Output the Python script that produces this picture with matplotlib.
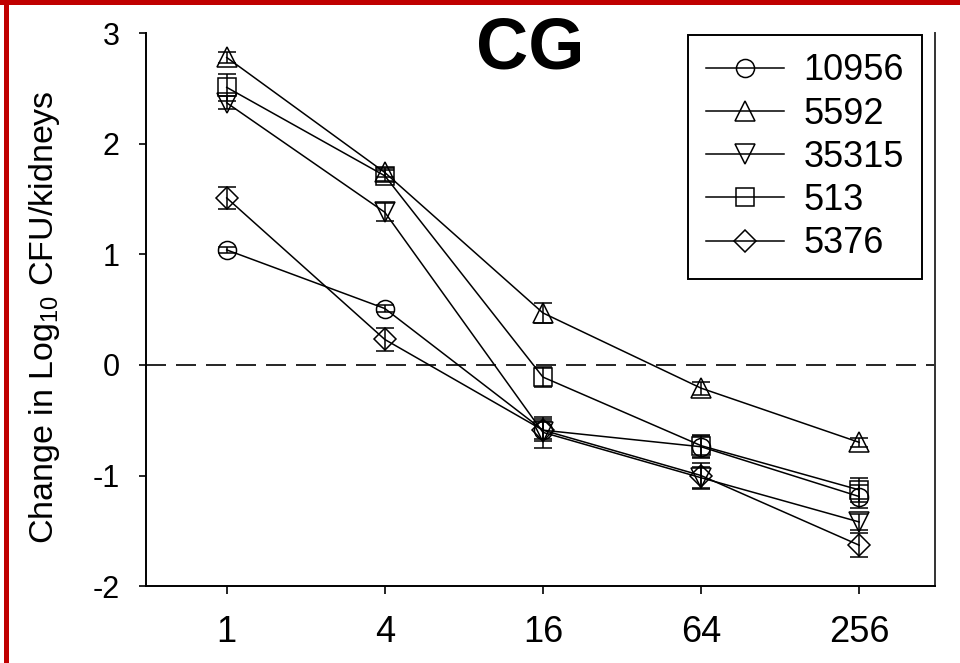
import numpy as np
import matplotlib.pyplot as plt
from matplotlib.patches import Rectangle
from matplotlib.ticker import NullLocator

plt.rcParams['font.family'] = ['Liberation Sans', 'DejaVu Sans']
plt.rcParams['mathtext.fontset'] = 'custom'
plt.rcParams['mathtext.rm'] = 'Liberation Sans'
plt.rcParams['mathtext.it'] = 'Liberation Sans'
plt.rcParams['axes.unicode_minus'] = False

# Dose (fold MIC) and change in log10 CFU per strain
doses = [1, 4, 16, 64, 256]
strains = ['10956', '5592', '35315', '513', '5376']

y_10956 = [1.04, 0.51, -0.59, -0.74, -1.19]
y_5592 = [2.78, 1.74, 0.47, -0.21, -0.70]
y_35315 = [2.37, 1.38, -0.61, -1.02, -1.42]
y_513 = [2.51, 1.71, -0.11, -0.73, -1.13]
y_5376 = [1.51, 0.23, -0.59, -1.00, -1.63]

err_10956 = [0.03, 0.03, 0.10, 0.10, 0.10]
err_5592 = [0.05, 0.04, 0.09, 0.06, 0.04]
err_35315 = [0.06, 0.08, 0.14, 0.10, 0.07]
err_513 = [0.12, 0.05, 0.09, 0.10, 0.11]
err_5376 = [0.10, 0.10, 0.08, 0.11, 0.11]

values = [y_10956, y_5592, y_35315, y_513, y_5376]
errors = [err_10956, err_5592, err_35315, err_513, err_5376]
markers = ['o', '^', 'v', 's', 'D']
msizes = [13, 15, 15, 13.5, 11.7]

fig = plt.figure(figsize=(9.6, 6.63), dpi=100)
ax = fig.add_axes([0.152, 0.116, 0.822, 0.834])

lines = []
for name, y, e, m, ms in zip(strains, values, errors, markers, msizes):
    ax.errorbar(doses, y, yerr=e, fmt='none', ecolor='black', elinewidth=1.1,
                capsize=6.8, capthick=1.1, zorder=3)
    ln, = ax.plot(doses, y, color='black', lw=1.1, marker=m, ms=ms,
                  mfc='none', mec='black', mew=1.1, label=name, zorder=4)
    lines.append(ln)

ax.axhline(0, color='black', lw=1.2, dashes=(12, 6), zorder=2)

ax.set_xscale('log', base=2)
ax.set_xlim(2 ** -1.022, 2 ** 8.96)
ax.set_xticks(doses)
ax.set_xticklabels([str(d) for d in doses])
ax.xaxis.set_minor_locator(NullLocator())
ax.set_ylim(-2, 3)
ax.set_yticks(range(-2, 4))

ax.spines['top'].set_visible(False)
for s in ['left', 'bottom', 'right']:
    ax.spines[s].set_linewidth(1.4)
ax.spines['right'].set_color('#333333')
ax.tick_params(axis='y', direction='out', length=5, width=1.2, pad=14, labelsize=22)
ax.tick_params(axis='x', direction='out', length=6, width=1.2, pad=15, labelsize=26)

ax.set_ylabel('Change in Log$_{10}$ CFU/kidneys', fontsize=24.5)
ax.yaxis.set_label_coords(-0.106, 0.486)

fig.text(0.552, 0.896, 'CG', fontsize=52, fontweight='bold', ha='center', va='baseline')

leg = ax.legend(handles=lines, loc='upper right', bbox_to_anchor=(0.9604, 0.947),
                bbox_transform=fig.transFigure, borderaxespad=0, fontsize=26,
                numpoints=1, fancybox=False, framealpha=1, edgecolor='black',
                handlelength=2.16, handletextpad=0.55, labelspacing=0.23,
                borderpad=0.5)
leg.get_frame().set_linewidth(1.4)

# red slide frame on the top and left edges
fig.add_artist(Rectangle((0, 1 - 5 / 663), 1, 5 / 663, transform=fig.transFigure,
                         color='#C00000', lw=0))
fig.add_artist(Rectangle((4 / 960, 0), 5 / 960, 1, transform=fig.transFigure,
                         color='#C00000', lw=0))

fig.savefig('out.png', dpi=100)
